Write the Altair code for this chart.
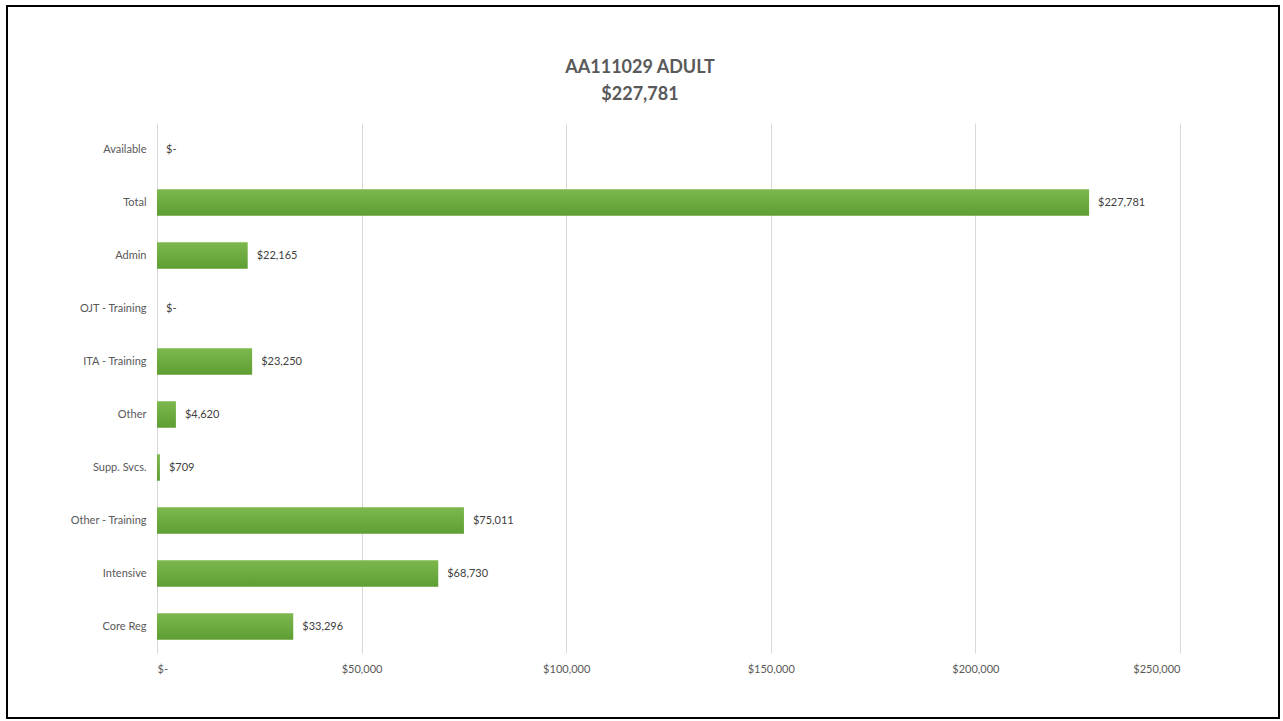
import altair as alt
import pandas as pd

categories = ["Available", "Total", "Admin", "OJT - Training", "ITA - Training",
              "Other", "Supp. Svcs.", "Other - Training", "Intensive", "Core Reg"]
values = [0, 227781, 22165, 0, 23250, 4620, 709, 75011, 68730, 33296]
x_ticks = [0, 50000, 100000, 150000, 200000, 250000]
title_lines = ["AA111029 ADULT", "$227,781"]


def money(v):
    return "$-" if v == 0 else "${:,.0f}".format(v)


df = pd.DataFrame({"cat": categories, "val": values,
                   "label": [money(v) for v in values]})

FONT = "Lato"
GRAY = "#595959"

y_enc = alt.Y("cat:N", sort=categories, title=None,
              scale=alt.Scale(paddingInner=0.5, paddingOuter=0.25),
              axis=alt.Axis(labelFont=FONT, labelFontSize=11, labelColor=GRAY,
                            labelPadding=11, ticks=False, domain=False))
x_enc = alt.X("val:Q", title=None,
              scale=alt.Scale(domain=[0, 250000], nice=False),
              axis=alt.Axis(values=x_ticks, labelFont=FONT, labelFontSize=11,
                            labelColor=GRAY, labelPadding=10, ticks=False,
                            domain=False, grid=True, gridColor="#d9d9d9",
                            labelExpr="datum.value == 0 ? '$-' : '$' + format(datum.value, ',')"))

bars = alt.Chart(df).mark_bar(
    color=alt.Gradient(gradient="linear",
                       stops=[alt.GradientStop(color="#7cb84e", offset=0),
                              alt.GradientStop(color="#5e9e32", offset=1)],
                       x1=0, x2=0, y1=0, y2=1)
).encode(x=x_enc, y=y_enc)

labels = alt.Chart(df).mark_text(
    align="left", baseline="middle", dx=9, font=FONT, fontSize=11, color="#404040"
).encode(x="val:Q", y=alt.Y("cat:N", sort=categories), text="label:N")

border = alt.Chart(df).mark_rect(
    fill=None, stroke="black", strokeWidth=2, clip=False
).encode(x=alt.value(-150), x2=alt.value(1122), y=alt.value(-117), y2=alt.value(595))

title1 = alt.Chart(pd.DataFrame({"t": [title_lines[0]]})).mark_text(
    font=FONT, fontSize=18, fontWeight="bold", color=GRAY, align="center",
    baseline="middle", clip=False
).encode(text="t:N", x=alt.value(483), y=alt.value(-55))

title2 = alt.Chart(pd.DataFrame({"t": [title_lines[1]]})).mark_text(
    font=FONT, fontSize=18, fontWeight="bold", color=GRAY, align="center",
    baseline="middle", clip=False
).encode(text="t:N", x=alt.value(483), y=alt.value(-28))

chart = alt.layer(bars, labels, border, title1, title2).properties(
    width=1023, height=530,
    autosize=alt.AutoSizeParams(type="none"),
    padding={"left": 157, "top": 123, "right": 103, "bottom": 68},
    background="white",
).configure_view(stroke=None)

chart.save("out.html", embed_options={"renderer": "svg", "actions": False})
